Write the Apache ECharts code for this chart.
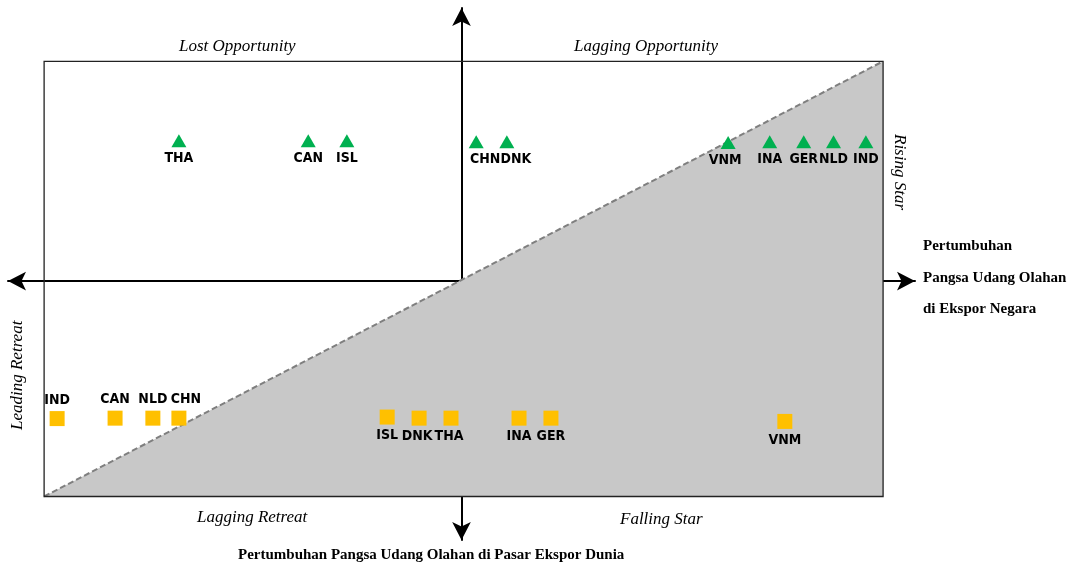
<!DOCTYPE html>
<html>
<head>
<meta charset="utf-8">
<script src="https://cdn.jsdelivr.net/npm/echarts@6/dist/echarts.min.js"></script>
<style>
  html, body { margin: 0; padding: 0; background: #fff; }
  #chart { width: 1091px; height: 569px; }
</style>
</head>
<body>
<div id="chart"></div>
<script>
// posisi negara (pangsa dunia vs pangsa negara), skala -1..1
var upNames = ['THA', 'CAN', 'ISL', 'CHN', 'DNK', 'VNM', 'INA', 'GER', 'NLD', 'IND'];
var upX = [-0.673, -0.365, -0.273, 0.035, 0.108, 0.635, 0.734, 0.815, 0.886, 0.963];
var upY = [0.645, 0.645, 0.645, 0.64, 0.64, 0.637, 0.64, 0.64, 0.64, 0.64];

var downNames = ['IND', 'CAN', 'NLD', 'CHN', 'ISL', 'DNK', 'THA', 'INA', 'GER', 'VNM'];
var downX = [-0.963, -0.825, -0.735, -0.673, -0.177, -0.101, -0.025, 0.137, 0.213, 0.77];
var downY = [-0.632, -0.63, -0.63, -0.63, -0.625, -0.63, -0.63, -0.63, -0.63, -0.645];
var downLabelTop = [true, true, true, true, false, false, false, false, false, false];

var quadrant = [[-0.994, -0.99], [1.004, 1.01]];

// geser label yang berdempetan (px)
var upShift = { CHN: 9, DNK: 9, VNM: -3 };
var downShift = { CHN: 7, DNK: -2, THA: -2 };

var upData = upNames.map(function (n, i) {
    return { name: n, value: [upX[i], upY[i]], label: { offset: [upShift[n] || 0, 0] } };
});
var downData = downNames.map(function (n, i) {
    return {
        name: n,
        value: [downX[i], downY[i]],
        label: { position: downLabelTop[i] ? 'top' : 'bottom', offset: [downShift[n] || 0, 0] }
    };
});

var labelFont = {
    show: true,
    formatter: '{b}',
    fontFamily: '"DejaVu Sans Condensed", "Liberation Sans Narrow", sans-serif',
    fontWeight: 'bold',
    fontSize: 14,
    color: '#000'
};

var chart = echarts.init(document.getElementById('chart'));

var option = {
    animation: false,
    grid: { left: 8, right: 176, top: 8, bottom: 29 },
    xAxis: {
        type: 'value', min: -1.08, max: 1.08,
        splitLine: { show: false }, axisTick: { show: false }, axisLabel: { show: false },
        axisLine: {
            onZero: true, symbol: ['arrow', 'arrow'], symbolSize: [14, 18],
            lineStyle: { color: '#000', width: 2 }
        }
    },
    yAxis: {
        type: 'value', min: -1.19, max: 1.255,
        splitLine: { show: false }, axisTick: { show: false }, axisLabel: { show: false },
        axisLine: {
            onZero: true, symbol: ['arrow', 'arrow'], symbolSize: [14, 18],
            lineStyle: { color: '#000', width: 2 }
        }
    },
    series: [
        {
            type: 'custom',
            z: 1,
            silent: true,
            data: [quadrant],
            renderItem: function (params, api) {
                var a = api.coord(quadrant[0]);
                var b = api.coord(quadrant[1]);
                return {
                    type: 'group',
                    children: [
                        {
                            type: 'polygon',
                            shape: { points: [a, b, [b[0], a[1]]] },
                            style: { fill: '#c8c8c8' }
                        },
                        {
                            type: 'line',
                            shape: { x1: a[0], y1: a[1], x2: b[0], y2: b[1] },
                            style: { stroke: '#7f7f7f', lineWidth: 2, lineDash: [6, 3] }
                        },
                        {
                            type: 'rect',
                            shape: { x: a[0], y: b[1], width: b[0] - a[0], height: a[1] - b[1] },
                            style: { fill: null, stroke: '#222', lineWidth: 1.3 }
                        }
                    ]
                };
            }
        },
        {
            type: 'scatter',
            z: 5,
            symbol: 'triangle',
            symbolSize: [15, 13],
            itemStyle: { color: '#00b050', opacity: 1 },
            label: Object.assign({ position: 'bottom', distance: 4 }, labelFont),
            data: upData
        },
        {
            type: 'scatter',
            z: 5,
            symbol: 'rect',
            symbolSize: 15,
            itemStyle: { color: '#ffc000', opacity: 1 },
            label: Object.assign({ distance: 4 }, labelFont),
            data: downData
        }
    ],
    graphic: [
        { type: 'text', left: 179, top: 38, style: { text: 'Lost Opportunity', font: 'italic 17px "Liberation Serif", serif', fill: '#000' } },
        { type: 'text', left: 574, top: 38, style: { text: 'Lagging Opportunity', font: 'italic 17px "Liberation Serif", serif', fill: '#000' } },
        { type: 'text', left: 197, top: 509, style: { text: 'Lagging Retreat', font: 'italic 17px "Liberation Serif", serif', fill: '#000' } },
        { type: 'text', left: 620, top: 511, style: { text: 'Falling Star', font: 'italic 17px "Liberation Serif", serif', fill: '#000' } },
        { type: 'text', x: 9, y: 430, rotation: Math.PI / 2, style: { text: 'Leading Retreat', font: 'italic 17px "Liberation Serif", serif', fill: '#000', verticalAlign: 'top' } },
        { type: 'text', x: 908, y: 134, rotation: -Math.PI / 2, style: { text: 'Rising Star', font: 'italic 17px "Liberation Serif", serif', fill: '#000', verticalAlign: 'top' } },
        { type: 'text', left: 923, top: 239, style: { text: 'Pertumbuhan', font: 'bold 15px "Liberation Serif", serif', fill: '#000' } },
        { type: 'text', left: 923, top: 271, style: { text: 'Pangsa Udang Olahan', font: 'bold 15px "Liberation Serif", serif', fill: '#000' } },
        { type: 'text', left: 923, top: 302, style: { text: 'di Ekspor Negara', font: 'bold 15px "Liberation Serif", serif', fill: '#000' } },
        { type: 'text', left: 238, top: 548, style: { text: 'Pertumbuhan Pangsa Udang Olahan di Pasar Ekspor Dunia', font: 'bold 15px "Liberation Serif", serif', fill: '#000' } }
    ]
};

chart.setOption(option);
</script>
</body>
</html>
